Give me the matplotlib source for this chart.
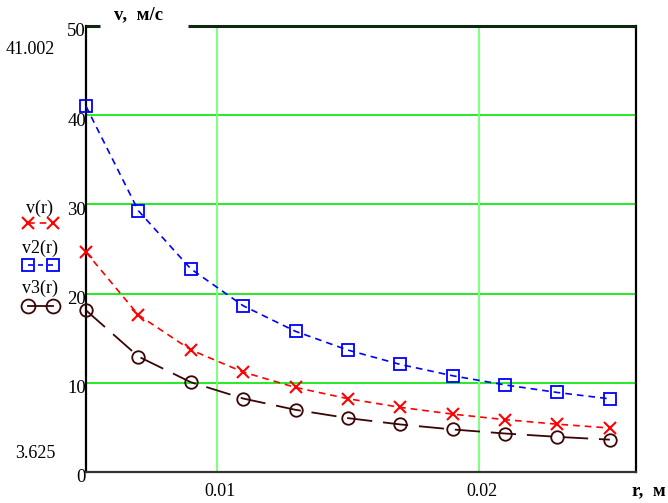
import matplotlib
matplotlib.use("Agg")
import matplotlib.pyplot as plt
from matplotlib.lines import Line2D
from matplotlib.transforms import ScaledTranslation

plt.rcParams['font.family'] = ['Liberation Serif', 'DejaVu Serif']

# radius, m
r = [0.005, 0.007, 0.009, 0.011, 0.013, 0.015, 0.017, 0.019, 0.021, 0.023, 0.025]
# speeds, m/s
v = [24.650, 17.607, 13.694, 11.205, 9.481, 8.217, 7.250, 6.487, 5.869, 5.359, 4.930]
v2 = [41.002, 29.287, 22.779, 18.637, 15.770, 13.667, 12.059, 10.790, 9.762, 8.913, 8.200]
v3 = [18.125, 12.946, 10.069, 8.239, 6.971, 6.042, 5.331, 4.770, 4.315, 3.940, 3.625]

xticks = [0.01, 0.02]
xtick_labels = ['0.01', '0.02']
yticks = [0, 10, 20, 30, 40, 50]
names = ['v(r)', 'v2(r)', 'v3(r)']

W, H = 668, 503
fig = plt.figure(figsize=(W / 100, H / 100), dpi=100)
ax = fig.add_axes([86 / W, 1 - 472 / H, 550 / W, 446 / H])
ax.set_xlim(0.005, 0.026)
ax.set_ylim(0, 50)

# grid
for yy in yticks[1:-1]:
    ax.axhline(yy, color='#00e600', lw=1.2, zorder=1)
for xx in xticks:
    ax.axvline(xx, color='#80ff80', lw=1.5, zorder=1)

red = '#ff0000'
blue = '#0000ff'
brown = '#3a0505'
ax.plot(r, v, color=red, lw=1.2, dashes=(4, 3), marker='x', ms=9, mew=1.5,
        mfc='none', zorder=3, clip_on=False)
ax.plot(r, v2, color=blue, lw=1.2, dashes=(4, 3), marker='s', ms=8.5, mew=1.3,
        mfc='none', zorder=3, clip_on=False)
ax.plot(r, v3, color=brown, lw=1.3, dashes=(14, 6), marker='o', ms=9, mew=1.3,
        mfc='none', zorder=3, clip_on=False)

# spines
ax.spines['top'].set_visible(False)
ax.spines['left'].set_color('black')
ax.spines['right'].set_color('black')
ax.spines['bottom'].set_color('#333333')
for s in ['left', 'right', 'bottom']:
    ax.spines[s].set_linewidth(1.6)
for x0, x1 in [(0, 14 / 550), (102 / 550, 1)]:
    ax.plot([x0, x1], [1, 1], transform=ax.transAxes, color='#0f260f',
            lw=2.2, clip_on=False, zorder=4, solid_capstyle='butt')

ax.set_xticks(xticks)
ax.set_xticklabels(xtick_labels, fontsize=13)
ax.set_yticks(yticks)
ax.set_yticklabels([str(t) for t in yticks], fontsize=13.5)
ax.tick_params(axis='both', length=0)
ax.tick_params(axis='x', pad=8)
ax.tick_params(axis='y', pad=0)
shift = ScaledTranslation(0, -4 / 100, fig.dpi_scale_trans)
for lab in ax.get_yticklabels():
    lab.set_transform(lab.get_transform() + shift)
shift_x = ScaledTranslation(3 / 100, 0, fig.dpi_scale_trans)
for lab in ax.get_xticklabels():
    lab.set_transform(lab.get_transform() + shift_x)

# axis titles
fig.text(139 / W, 1 - 15 / H, 'v,  м/с', fontsize=13.5, fontweight='bold',
         ha='center', va='center')
fig.text(632 / W, 1 - 491 / H, 'r,  м', fontsize=13.5, fontweight='bold',
         ha='left', va='center')

# max / min markers
fig.text(55 / W, 1 - 50 / H, '%.3f' % max(v2), fontsize=13, ha='right', va='center')
fig.text(55 / W, 1 - 453 / H, '%.3f' % min(v3), fontsize=13, ha='right', va='center')

# legend on the left
legend_y = [208, 248, 288]
sample_y = [223, 265, 306]
styles = [
    dict(color=red, lw=1.2, dashes=(4, 3), marker='x', ms=9, mew=1.5, mfc='none'),
    dict(color=blue, lw=1.2, dashes=(3, 3), marker='s', ms=8.5, mew=1.3, mfc='none'),
    dict(color=brown, lw=1.3, marker='o', ms=10, mew=1.3, mfc='none'),
]
for name, ty, sy, st in zip(names, legend_y, sample_y, styles):
    fig.text(40 / W, 1 - ty / H, name, fontsize=13, ha='center', va='center')
    fig.add_artist(Line2D([28 / W, 53 / W], [1 - sy / H, 1 - sy / H],
                          transform=fig.transFigure, **st))

fig.savefig('out.png', dpi=100)
